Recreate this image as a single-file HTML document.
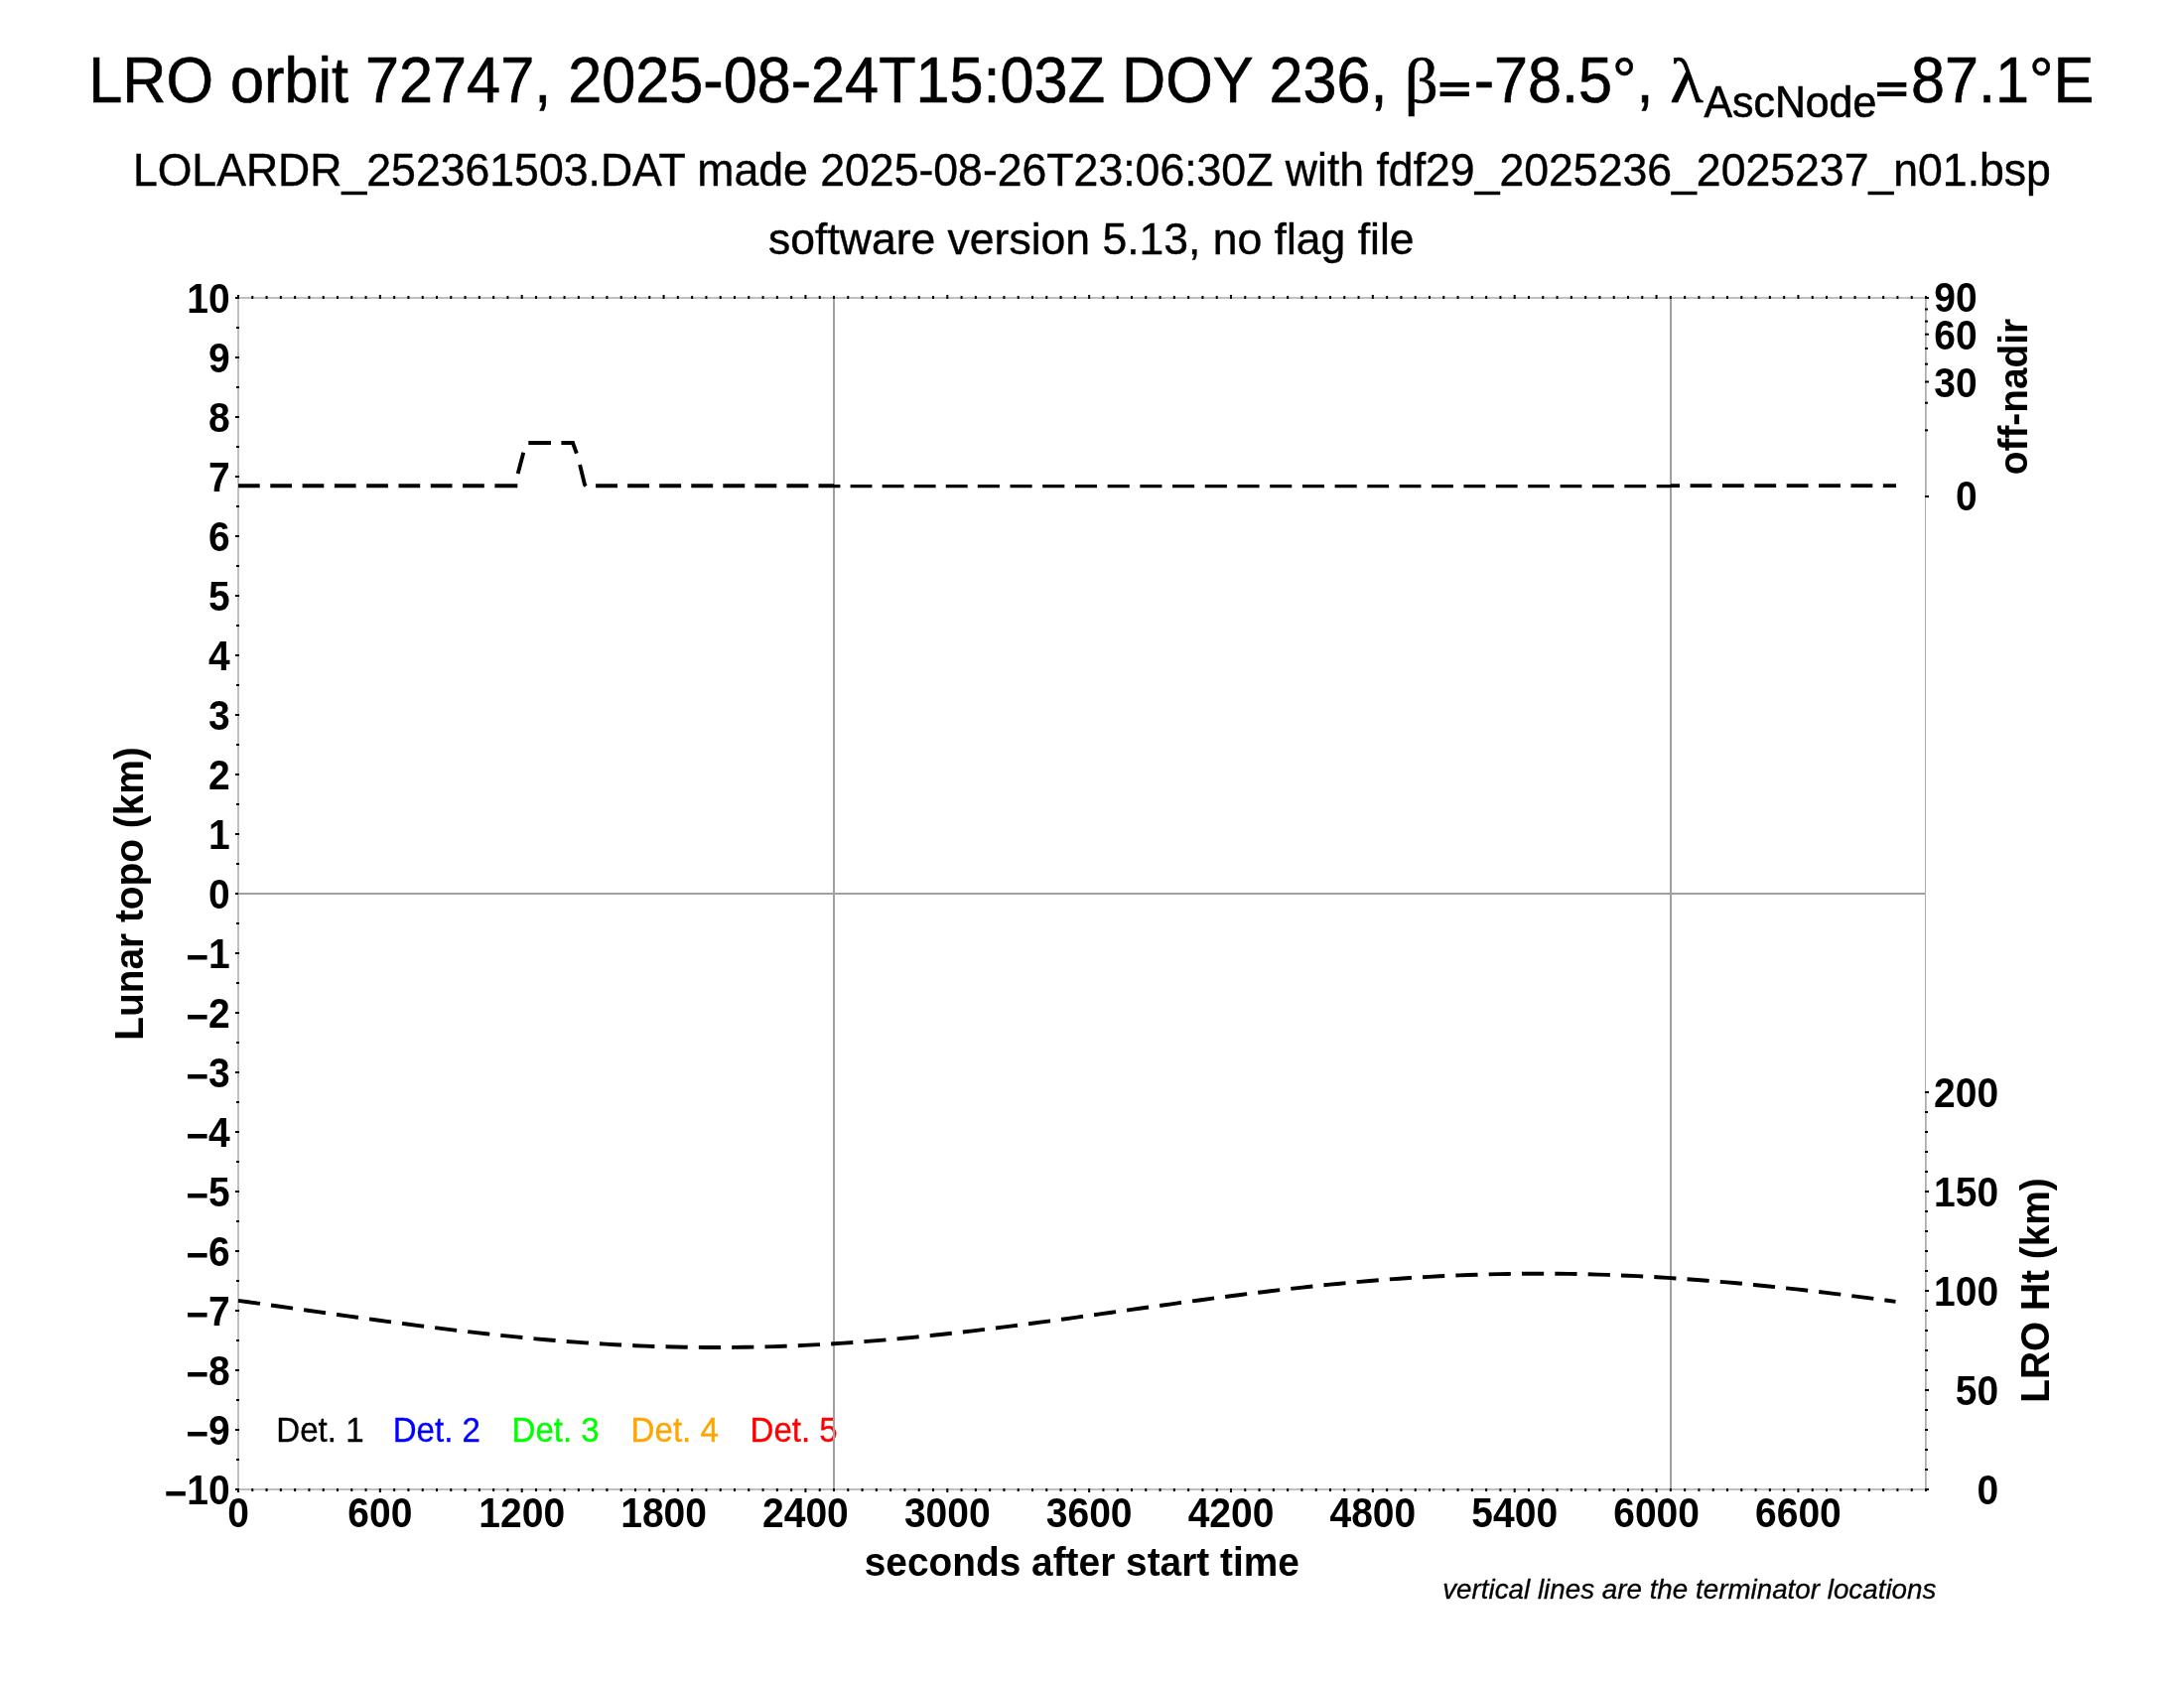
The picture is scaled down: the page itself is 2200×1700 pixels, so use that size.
<!DOCTYPE html>
<html lang="en"><head><meta charset="utf-8">
<title>LRO orbit 72747 LOLA RDR summary</title>
<style>
html,body{margin:0;padding:0;background:#fff;}
body{width:2200px;height:1700px;}
svg{display:block;will-change:transform;}
text{font-family:'Liberation Sans', Arial, Helvetica, sans-serif;fill:#000;}
.ann{font-weight:bold;font-size:39px;}
.lab{font-weight:bold;font-size:38.85px;}
.sub{font-size:44.6px;stroke:#000;stroke-width:0.4px;}
.det{font-size:33.1px;}
.gr{font-family:'Liberation Serif', 'DejaVu Serif', serif;}
</style></head><body>
<svg width="2200" height="1700" viewBox="0 0 2200 1700" role="img" aria-label="LOLA RDR orbit summary plot">
<rect x="0" y="0" width="2200" height="1700" fill="#ffffff"/>
<g id="headings">
<text id="t1" transform="translate(89.2,103.2) scale(1,1.055)" font-size="61.2" style="stroke:#000;stroke-width:0.6px;" xml:space="preserve">LRO orbit 72747, 2025-08-24T15:03Z DOY 236, </text>
<text id="tb" class="gr" transform="translate(1414.8,102.8) scale(1.045,1)" font-size="64" style="stroke:#000;stroke-width:0.6px;" xml:space="preserve">β</text>
<text id="e1" transform="translate(1449.4,102) scale(0.88,0.602)" font-size="61.2" style="stroke:#000;stroke-width:3.6px;">=</text>
<text id="t2" transform="translate(1484.64,103.2) scale(1,1.055)" font-size="61.2" style="stroke:#000;stroke-width:0.6px;" xml:space="preserve">-78.5°, </text>
<text id="tl" class="gr" transform="translate(1682.2,103.2) scale(1.075,1)" font-size="64.2" style="stroke:#000;stroke-width:0.6px;" xml:space="preserve">λ</text>
<text id="ts" transform="translate(1716.5,117.7) scale(1,1.055)" font-size="42.84" style="stroke:#000;stroke-width:0.6px;" xml:space="preserve">AscNode</text>
<text id="e2" transform="translate(1889.95,102) scale(0.88,0.602)" font-size="61.2" style="stroke:#000;stroke-width:3.6px;">=</text>
<text id="t3" transform="translate(1925.04,103.2) scale(1,1.055)" font-size="61.2" style="stroke:#000;stroke-width:0.6px;" xml:space="preserve">87.1°E</text>
<text class="sub" transform="translate(1099.9,187) scale(1,1.05)" text-anchor="middle">LOLARDR_252361503.DAT made 2025-08-26T23:06:30Z with fdf29_2025236_2025237_n01.bsp</text>
<text class="sub" transform="translate(1099.3,255.5) scale(1,1)" text-anchor="middle" style="font-size:44.5px">software version 5.13, no flag file</text>
</g>
<g id="legend">
<text class="det" transform="translate(278.3,1451.8) scale(1,1.05)" style="fill:#000000;stroke:#000000;stroke-width:0.3px">Det. 1</text>
<text class="det" transform="translate(395.7,1451.8) scale(1,1.05)" style="fill:#0000ff;stroke:#0000ff;stroke-width:0.3px">Det. 2</text>
<text class="det" transform="translate(515.5,1451.8) scale(1,1.05)" style="fill:#00ff00;stroke:#00ff00;stroke-width:0.3px">Det. 3</text>
<text class="det" transform="translate(635.6,1451.8) scale(1,1.05)" style="fill:#ffa500;stroke:#ffa500;stroke-width:0.3px">Det. 4</text>
<text class="det" transform="translate(755.5,1451.8) scale(1,1.05)" style="fill:#ff0000;stroke:#ff0000;stroke-width:0.3px">Det. 5</text>
</g>
<g id="frame" fill="#c0c0c0">
<rect x="239" y="299" width="1702" height="2"/>
<rect x="239" y="1499" width="1702" height="2"/>
<rect x="239" y="299" width="2" height="1202"/>
<rect x="1939" y="299" width="2" height="202"/>
<rect x="1939" y="1099" width="2" height="402"/>
<rect x="1939" y="299" width="1" height="1202" fill="#adadad"/>
</g>
<g id="ticks" fill="#000">
<rect x="239" y="297" width="2" height="4"/>
<rect x="239" y="1499" width="2" height="4"/>
<rect x="253.286" y="298" width="2" height="3"/>
<rect x="253.286" y="1499" width="2" height="3"/>
<rect x="267.571" y="298" width="2" height="3"/>
<rect x="267.571" y="1499" width="2" height="3"/>
<rect x="281.857" y="298" width="2" height="3"/>
<rect x="281.857" y="1499" width="2" height="3"/>
<rect x="296.143" y="298" width="2" height="3"/>
<rect x="296.143" y="1499" width="2" height="3"/>
<rect x="310.429" y="298" width="2" height="3"/>
<rect x="310.429" y="1499" width="2" height="3"/>
<rect x="324.714" y="298" width="2" height="3"/>
<rect x="324.714" y="1499" width="2" height="3"/>
<rect x="339" y="298" width="2" height="3"/>
<rect x="339" y="1499" width="2" height="3"/>
<rect x="353.286" y="298" width="2" height="3"/>
<rect x="353.286" y="1499" width="2" height="3"/>
<rect x="367.571" y="298" width="2" height="3"/>
<rect x="367.571" y="1499" width="2" height="3"/>
<rect x="381.857" y="297" width="2" height="4"/>
<rect x="381.857" y="1499" width="2" height="4"/>
<rect x="396.143" y="298" width="2" height="3"/>
<rect x="396.143" y="1499" width="2" height="3"/>
<rect x="410.429" y="298" width="2" height="3"/>
<rect x="410.429" y="1499" width="2" height="3"/>
<rect x="424.714" y="298" width="2" height="3"/>
<rect x="424.714" y="1499" width="2" height="3"/>
<rect x="439" y="298" width="2" height="3"/>
<rect x="439" y="1499" width="2" height="3"/>
<rect x="453.286" y="298" width="2" height="3"/>
<rect x="453.286" y="1499" width="2" height="3"/>
<rect x="467.571" y="298" width="2" height="3"/>
<rect x="467.571" y="1499" width="2" height="3"/>
<rect x="481.857" y="298" width="2" height="3"/>
<rect x="481.857" y="1499" width="2" height="3"/>
<rect x="496.143" y="298" width="2" height="3"/>
<rect x="496.143" y="1499" width="2" height="3"/>
<rect x="510.429" y="298" width="2" height="3"/>
<rect x="510.429" y="1499" width="2" height="3"/>
<rect x="524.714" y="297" width="2" height="4"/>
<rect x="524.714" y="1499" width="2" height="4"/>
<rect x="539" y="298" width="2" height="3"/>
<rect x="539" y="1499" width="2" height="3"/>
<rect x="553.286" y="298" width="2" height="3"/>
<rect x="553.286" y="1499" width="2" height="3"/>
<rect x="567.571" y="298" width="2" height="3"/>
<rect x="567.571" y="1499" width="2" height="3"/>
<rect x="581.857" y="298" width="2" height="3"/>
<rect x="581.857" y="1499" width="2" height="3"/>
<rect x="596.143" y="298" width="2" height="3"/>
<rect x="596.143" y="1499" width="2" height="3"/>
<rect x="610.429" y="298" width="2" height="3"/>
<rect x="610.429" y="1499" width="2" height="3"/>
<rect x="624.714" y="298" width="2" height="3"/>
<rect x="624.714" y="1499" width="2" height="3"/>
<rect x="639" y="298" width="2" height="3"/>
<rect x="639" y="1499" width="2" height="3"/>
<rect x="653.286" y="298" width="2" height="3"/>
<rect x="653.286" y="1499" width="2" height="3"/>
<rect x="667.571" y="297" width="2" height="4"/>
<rect x="667.571" y="1499" width="2" height="4"/>
<rect x="681.857" y="298" width="2" height="3"/>
<rect x="681.857" y="1499" width="2" height="3"/>
<rect x="696.143" y="298" width="2" height="3"/>
<rect x="696.143" y="1499" width="2" height="3"/>
<rect x="710.429" y="298" width="2" height="3"/>
<rect x="710.429" y="1499" width="2" height="3"/>
<rect x="724.714" y="298" width="2" height="3"/>
<rect x="724.714" y="1499" width="2" height="3"/>
<rect x="739" y="298" width="2" height="3"/>
<rect x="739" y="1499" width="2" height="3"/>
<rect x="753.286" y="298" width="2" height="3"/>
<rect x="753.286" y="1499" width="2" height="3"/>
<rect x="767.571" y="298" width="2" height="3"/>
<rect x="767.571" y="1499" width="2" height="3"/>
<rect x="781.857" y="298" width="2" height="3"/>
<rect x="781.857" y="1499" width="2" height="3"/>
<rect x="796.143" y="298" width="2" height="3"/>
<rect x="796.143" y="1499" width="2" height="3"/>
<rect x="810.429" y="297" width="2" height="4"/>
<rect x="810.429" y="1499" width="2" height="4"/>
<rect x="824.714" y="298" width="2" height="3"/>
<rect x="824.714" y="1499" width="2" height="3"/>
<rect x="839" y="298" width="2" height="3"/>
<rect x="839" y="1499" width="2" height="3"/>
<rect x="853.286" y="298" width="2" height="3"/>
<rect x="853.286" y="1499" width="2" height="3"/>
<rect x="867.571" y="298" width="2" height="3"/>
<rect x="867.571" y="1499" width="2" height="3"/>
<rect x="881.857" y="298" width="2" height="3"/>
<rect x="881.857" y="1499" width="2" height="3"/>
<rect x="896.143" y="298" width="2" height="3"/>
<rect x="896.143" y="1499" width="2" height="3"/>
<rect x="910.429" y="298" width="2" height="3"/>
<rect x="910.429" y="1499" width="2" height="3"/>
<rect x="924.714" y="298" width="2" height="3"/>
<rect x="924.714" y="1499" width="2" height="3"/>
<rect x="939" y="298" width="2" height="3"/>
<rect x="939" y="1499" width="2" height="3"/>
<rect x="953.286" y="297" width="2" height="4"/>
<rect x="953.286" y="1499" width="2" height="4"/>
<rect x="967.571" y="298" width="2" height="3"/>
<rect x="967.571" y="1499" width="2" height="3"/>
<rect x="981.857" y="298" width="2" height="3"/>
<rect x="981.857" y="1499" width="2" height="3"/>
<rect x="996.143" y="298" width="2" height="3"/>
<rect x="996.143" y="1499" width="2" height="3"/>
<rect x="1010.429" y="298" width="2" height="3"/>
<rect x="1010.429" y="1499" width="2" height="3"/>
<rect x="1024.714" y="298" width="2" height="3"/>
<rect x="1024.714" y="1499" width="2" height="3"/>
<rect x="1039" y="298" width="2" height="3"/>
<rect x="1039" y="1499" width="2" height="3"/>
<rect x="1053.286" y="298" width="2" height="3"/>
<rect x="1053.286" y="1499" width="2" height="3"/>
<rect x="1067.571" y="298" width="2" height="3"/>
<rect x="1067.571" y="1499" width="2" height="3"/>
<rect x="1081.857" y="298" width="2" height="3"/>
<rect x="1081.857" y="1499" width="2" height="3"/>
<rect x="1096.143" y="297" width="2" height="4"/>
<rect x="1096.143" y="1499" width="2" height="4"/>
<rect x="1110.429" y="298" width="2" height="3"/>
<rect x="1110.429" y="1499" width="2" height="3"/>
<rect x="1124.714" y="298" width="2" height="3"/>
<rect x="1124.714" y="1499" width="2" height="3"/>
<rect x="1139" y="298" width="2" height="3"/>
<rect x="1139" y="1499" width="2" height="3"/>
<rect x="1153.286" y="298" width="2" height="3"/>
<rect x="1153.286" y="1499" width="2" height="3"/>
<rect x="1167.571" y="298" width="2" height="3"/>
<rect x="1167.571" y="1499" width="2" height="3"/>
<rect x="1181.857" y="298" width="2" height="3"/>
<rect x="1181.857" y="1499" width="2" height="3"/>
<rect x="1196.143" y="298" width="2" height="3"/>
<rect x="1196.143" y="1499" width="2" height="3"/>
<rect x="1210.429" y="298" width="2" height="3"/>
<rect x="1210.429" y="1499" width="2" height="3"/>
<rect x="1224.714" y="298" width="2" height="3"/>
<rect x="1224.714" y="1499" width="2" height="3"/>
<rect x="1239" y="297" width="2" height="4"/>
<rect x="1239" y="1499" width="2" height="4"/>
<rect x="1253.286" y="298" width="2" height="3"/>
<rect x="1253.286" y="1499" width="2" height="3"/>
<rect x="1267.571" y="298" width="2" height="3"/>
<rect x="1267.571" y="1499" width="2" height="3"/>
<rect x="1281.857" y="298" width="2" height="3"/>
<rect x="1281.857" y="1499" width="2" height="3"/>
<rect x="1296.143" y="298" width="2" height="3"/>
<rect x="1296.143" y="1499" width="2" height="3"/>
<rect x="1310.429" y="298" width="2" height="3"/>
<rect x="1310.429" y="1499" width="2" height="3"/>
<rect x="1324.714" y="298" width="2" height="3"/>
<rect x="1324.714" y="1499" width="2" height="3"/>
<rect x="1339" y="298" width="2" height="3"/>
<rect x="1339" y="1499" width="2" height="3"/>
<rect x="1353.286" y="298" width="2" height="3"/>
<rect x="1353.286" y="1499" width="2" height="3"/>
<rect x="1367.571" y="298" width="2" height="3"/>
<rect x="1367.571" y="1499" width="2" height="3"/>
<rect x="1381.857" y="297" width="2" height="4"/>
<rect x="1381.857" y="1499" width="2" height="4"/>
<rect x="1396.143" y="298" width="2" height="3"/>
<rect x="1396.143" y="1499" width="2" height="3"/>
<rect x="1410.429" y="298" width="2" height="3"/>
<rect x="1410.429" y="1499" width="2" height="3"/>
<rect x="1424.714" y="298" width="2" height="3"/>
<rect x="1424.714" y="1499" width="2" height="3"/>
<rect x="1439" y="298" width="2" height="3"/>
<rect x="1439" y="1499" width="2" height="3"/>
<rect x="1453.286" y="298" width="2" height="3"/>
<rect x="1453.286" y="1499" width="2" height="3"/>
<rect x="1467.571" y="298" width="2" height="3"/>
<rect x="1467.571" y="1499" width="2" height="3"/>
<rect x="1481.857" y="298" width="2" height="3"/>
<rect x="1481.857" y="1499" width="2" height="3"/>
<rect x="1496.143" y="298" width="2" height="3"/>
<rect x="1496.143" y="1499" width="2" height="3"/>
<rect x="1510.429" y="298" width="2" height="3"/>
<rect x="1510.429" y="1499" width="2" height="3"/>
<rect x="1524.714" y="297" width="2" height="4"/>
<rect x="1524.714" y="1499" width="2" height="4"/>
<rect x="1539" y="298" width="2" height="3"/>
<rect x="1539" y="1499" width="2" height="3"/>
<rect x="1553.286" y="298" width="2" height="3"/>
<rect x="1553.286" y="1499" width="2" height="3"/>
<rect x="1567.571" y="298" width="2" height="3"/>
<rect x="1567.571" y="1499" width="2" height="3"/>
<rect x="1581.857" y="298" width="2" height="3"/>
<rect x="1581.857" y="1499" width="2" height="3"/>
<rect x="1596.143" y="298" width="2" height="3"/>
<rect x="1596.143" y="1499" width="2" height="3"/>
<rect x="1610.429" y="298" width="2" height="3"/>
<rect x="1610.429" y="1499" width="2" height="3"/>
<rect x="1624.714" y="298" width="2" height="3"/>
<rect x="1624.714" y="1499" width="2" height="3"/>
<rect x="1639" y="298" width="2" height="3"/>
<rect x="1639" y="1499" width="2" height="3"/>
<rect x="1653.286" y="298" width="2" height="3"/>
<rect x="1653.286" y="1499" width="2" height="3"/>
<rect x="1667.571" y="297" width="2" height="4"/>
<rect x="1667.571" y="1499" width="2" height="4"/>
<rect x="1681.857" y="298" width="2" height="3"/>
<rect x="1681.857" y="1499" width="2" height="3"/>
<rect x="1696.143" y="298" width="2" height="3"/>
<rect x="1696.143" y="1499" width="2" height="3"/>
<rect x="1710.429" y="298" width="2" height="3"/>
<rect x="1710.429" y="1499" width="2" height="3"/>
<rect x="1724.714" y="298" width="2" height="3"/>
<rect x="1724.714" y="1499" width="2" height="3"/>
<rect x="1739" y="298" width="2" height="3"/>
<rect x="1739" y="1499" width="2" height="3"/>
<rect x="1753.286" y="298" width="2" height="3"/>
<rect x="1753.286" y="1499" width="2" height="3"/>
<rect x="1767.571" y="298" width="2" height="3"/>
<rect x="1767.571" y="1499" width="2" height="3"/>
<rect x="1781.857" y="298" width="2" height="3"/>
<rect x="1781.857" y="1499" width="2" height="3"/>
<rect x="1796.143" y="298" width="2" height="3"/>
<rect x="1796.143" y="1499" width="2" height="3"/>
<rect x="1810.429" y="297" width="2" height="4"/>
<rect x="1810.429" y="1499" width="2" height="4"/>
<rect x="1824.714" y="298" width="2" height="3"/>
<rect x="1824.714" y="1499" width="2" height="3"/>
<rect x="1839" y="298" width="2" height="3"/>
<rect x="1839" y="1499" width="2" height="3"/>
<rect x="1853.286" y="298" width="2" height="3"/>
<rect x="1853.286" y="1499" width="2" height="3"/>
<rect x="1867.571" y="298" width="2" height="3"/>
<rect x="1867.571" y="1499" width="2" height="3"/>
<rect x="1881.857" y="298" width="2" height="3"/>
<rect x="1881.857" y="1499" width="2" height="3"/>
<rect x="1896.143" y="298" width="2" height="3"/>
<rect x="1896.143" y="1499" width="2" height="3"/>
<rect x="1910.429" y="298" width="2" height="3"/>
<rect x="1910.429" y="1499" width="2" height="3"/>
<rect x="1924.714" y="298" width="2" height="3"/>
<rect x="1924.714" y="1499" width="2" height="3"/>
<rect x="1939" y="298" width="2" height="3"/>
<rect x="1939" y="1499" width="2" height="3"/>
<rect x="237" y="299" width="4" height="2"/>
<rect x="238" y="329" width="3" height="2"/>
<rect x="237" y="359" width="4" height="2"/>
<rect x="238" y="389" width="3" height="2"/>
<rect x="237" y="419" width="4" height="2"/>
<rect x="238" y="449" width="3" height="2"/>
<rect x="237" y="479" width="4" height="2"/>
<rect x="238" y="509" width="3" height="2"/>
<rect x="237" y="539" width="4" height="2"/>
<rect x="238" y="569" width="3" height="2"/>
<rect x="237" y="599" width="4" height="2"/>
<rect x="238" y="629" width="3" height="2"/>
<rect x="237" y="659" width="4" height="2"/>
<rect x="238" y="689" width="3" height="2"/>
<rect x="237" y="719" width="4" height="2"/>
<rect x="238" y="749" width="3" height="2"/>
<rect x="237" y="779" width="4" height="2"/>
<rect x="238" y="809" width="3" height="2"/>
<rect x="237" y="839" width="4" height="2"/>
<rect x="238" y="869" width="3" height="2"/>
<rect x="237" y="899" width="4" height="2"/>
<rect x="238" y="929" width="3" height="2"/>
<rect x="237" y="959" width="4" height="2"/>
<rect x="238" y="989" width="3" height="2"/>
<rect x="237" y="1019" width="4" height="2"/>
<rect x="238" y="1049" width="3" height="2"/>
<rect x="237" y="1079" width="4" height="2"/>
<rect x="238" y="1109" width="3" height="2"/>
<rect x="237" y="1139" width="4" height="2"/>
<rect x="238" y="1169" width="3" height="2"/>
<rect x="237" y="1199" width="4" height="2"/>
<rect x="238" y="1229" width="3" height="2"/>
<rect x="237" y="1259" width="4" height="2"/>
<rect x="238" y="1289" width="3" height="2"/>
<rect x="237" y="1319" width="4" height="2"/>
<rect x="238" y="1349" width="3" height="2"/>
<rect x="237" y="1379" width="4" height="2"/>
<rect x="238" y="1409" width="3" height="2"/>
<rect x="237" y="1439" width="4" height="2"/>
<rect x="238" y="1469" width="3" height="2"/>
<rect x="237" y="1499" width="4" height="2"/>
<rect x="1939" y="499" width="4" height="2"/>
<rect x="1939" y="432.333" width="3" height="2"/>
<rect x="1939" y="404.719" width="3" height="2"/>
<rect x="1939" y="383.53" width="4" height="2"/>
<rect x="1939" y="365.667" width="3" height="2"/>
<rect x="1939" y="349.929" width="3" height="2"/>
<rect x="1939" y="335.701" width="4" height="2"/>
<rect x="1939" y="322.617" width="3" height="2"/>
<rect x="1939" y="310.438" width="3" height="2"/>
<rect x="1939" y="299" width="4" height="2"/>
<rect x="1939" y="1499" width="4" height="2"/>
<rect x="1939" y="1479" width="3" height="2"/>
<rect x="1939" y="1459" width="3" height="2"/>
<rect x="1939" y="1439" width="3" height="2"/>
<rect x="1939" y="1419" width="3" height="2"/>
<rect x="1939" y="1399" width="4" height="2"/>
<rect x="1939" y="1379" width="3" height="2"/>
<rect x="1939" y="1359" width="3" height="2"/>
<rect x="1939" y="1339" width="3" height="2"/>
<rect x="1939" y="1319" width="3" height="2"/>
<rect x="1939" y="1299" width="4" height="2"/>
<rect x="1939" y="1279" width="3" height="2"/>
<rect x="1939" y="1259" width="3" height="2"/>
<rect x="1939" y="1239" width="3" height="2"/>
<rect x="1939" y="1219" width="3" height="2"/>
<rect x="1939" y="1199" width="4" height="2"/>
<rect x="1939" y="1179" width="3" height="2"/>
<rect x="1939" y="1159" width="3" height="2"/>
<rect x="1939" y="1139" width="3" height="2"/>
<rect x="1939" y="1119" width="3" height="2"/>
<rect x="1939" y="1099" width="4" height="2"/>
</g>
<g id="grid" fill="#a0a0a0">
<rect x="240" y="899" width="1699" height="2"/>
<rect x="839" y="301" width="2" height="1198"/>
<rect x="1682" y="301" width="2" height="1198"/>
</g>
<g id="curves" fill="none" stroke="#000" stroke-width="3.9" stroke-linejoin="miter">
<path id="offnadir1" d="M240,489.2 H490" stroke-dasharray="21.7 10.6"/>
<path id="offnadir_bump" d="M498.4,489.2 H521.3 M521.7,477 L527.3,455.8 M532.3,446 H555 M565.4,446 H577 L580.9,456.6 M584.1,468 L589,488.2 L590.2,489.6"/>
<path id="offnadir2a" d="M600.1,489.2 H840" stroke-dasharray="21.9 10.16"/>
<path id="offnadir2b" d="M840,489.7 H984.8" stroke-width="3.2" stroke-dasharray="21.9 10.16" stroke-dashoffset="15.48"/>
<path id="offnadir2c" d="M984.8,489.7 H1377.3" stroke-width="3.2" stroke-dasharray="22.1 10.61"/>
<path id="offnadir2d" d="M1377.3,489.7 H1683" stroke-width="3.2" stroke-dasharray="21.8 10.58"/>
<path id="offnadir2e" d="M1683,489.1 H1910" stroke-dasharray="21.8 10.58" stroke-dashoffset="12.8"/>
<path id="lroht" d="M240,1309.861 L249.997,1311.257 L259.994,1312.658 L269.991,1314.065 L279.988,1315.477 L289.985,1316.891 L299.982,1318.307 L309.979,1319.723 L319.976,1321.137 L329.973,1322.549 L339.97,1323.956 L349.967,1325.356 L359.964,1326.749 L369.961,1328.131 L379.958,1329.502 L389.955,1330.859 L399.952,1332.2 L409.949,1333.524 L419.946,1334.829 L429.943,1336.113 L439.94,1337.374 L449.937,1338.61 L459.934,1339.819 L469.931,1341 L479.928,1342.15 L489.925,1343.269 L499.922,1344.354 L509.919,1345.403 L519.916,1346.416 L529.913,1347.39 L539.91,1348.325 L549.907,1349.217 L559.904,1350.068 L569.901,1350.874 L579.898,1351.635 L589.895,1352.349 L599.892,1353.016 L609.889,1353.634 L619.886,1354.203 L629.883,1354.721 L639.88,1355.188 L649.877,1355.603 L659.874,1355.965 L669.871,1356.275 L679.868,1356.531 L689.865,1356.732 L699.862,1356.88 L709.859,1356.973 L719.856,1357.012 L729.853,1356.995 L739.85,1356.924 L749.847,1356.799 L759.844,1356.619 L769.841,1356.386 L779.838,1356.098 L789.835,1355.758 L799.832,1355.365 L809.829,1354.919 L819.826,1354.423 L829.823,1353.875 L839.82,1353.278 L849.817,1352.632 L859.814,1351.939 L869.811,1351.198 L879.808,1350.412 L889.805,1349.581 L899.802,1348.706 L909.799,1347.79 L919.796,1346.834 L929.793,1345.838 L939.79,1344.805 L949.787,1343.735 L959.784,1342.631 L969.781,1341.494 L979.778,1340.326 L989.775,1339.128 L999.772,1337.903 L1009.769,1336.652 L1019.766,1335.377 L1029.763,1334.08 L1039.76,1332.762 L1049.757,1331.427 L1059.754,1330.075 L1069.751,1328.708 L1079.749,1327.329 L1089.746,1325.94 L1099.743,1324.543 L1109.74,1323.139 L1119.737,1321.731 L1129.734,1320.321 L1139.731,1318.91 L1149.728,1317.502 L1159.725,1316.097 L1169.722,1314.698 L1179.719,1313.307 L1189.716,1311.926 L1199.713,1310.557 L1209.71,1309.202 L1219.707,1307.862 L1229.704,1306.54 L1239.701,1305.238 L1249.698,1303.957 L1259.695,1302.699 L1269.692,1301.467 L1279.689,1300.261 L1289.686,1299.083 L1299.683,1297.936 L1309.68,1296.82 L1319.677,1295.737 L1329.674,1294.689 L1339.671,1293.678 L1349.668,1292.704 L1359.665,1291.769 L1369.662,1290.873 L1379.659,1290.02 L1389.656,1289.209 L1399.653,1288.441 L1409.65,1287.719 L1419.647,1287.041 L1429.644,1286.411 L1439.641,1285.827 L1449.638,1285.292 L1459.635,1284.806 L1469.632,1284.368 L1479.629,1283.981 L1489.626,1283.644 L1499.623,1283.358 L1509.62,1283.122 L1519.617,1282.938 L1529.614,1282.805 L1539.611,1282.724 L1549.608,1282.694 L1559.605,1282.716 L1569.602,1282.789 L1579.599,1282.913 L1589.596,1283.087 L1599.593,1283.312 L1609.59,1283.587 L1619.587,1283.912 L1629.584,1284.285 L1639.581,1284.707 L1649.578,1285.176 L1659.575,1285.693 L1669.572,1286.255 L1679.569,1286.863 L1689.566,1287.515 L1699.563,1288.21 L1709.56,1288.948 L1719.557,1289.727 L1729.554,1290.547 L1739.551,1291.406 L1749.548,1292.302 L1759.545,1293.236 L1769.542,1294.206 L1779.539,1295.209 L1789.536,1296.247 L1799.533,1297.316 L1809.53,1298.416 L1819.527,1299.546 L1829.524,1300.705 L1839.521,1301.89 L1849.518,1303.102 L1859.515,1304.339 L1869.512,1305.601 L1879.509,1306.885 L1889.506,1308.191 L1899.503,1309.518 L1909.5,1310.866" stroke-dasharray="22.2 11.13"/>
</g>
<g id="annot">
<text class="ann" transform="translate(231.7,314.6) scale(1,1.07)" text-anchor="end">10</text>
<text class="ann" transform="translate(231.7,374.6) scale(1,1.07)" text-anchor="end">9</text>
<text class="ann" transform="translate(231.7,434.6) scale(1,1.07)" text-anchor="end">8</text>
<text class="ann" transform="translate(231.7,494.6) scale(1,1.07)" text-anchor="end">7</text>
<text class="ann" transform="translate(231.7,554.6) scale(1,1.07)" text-anchor="end">6</text>
<text class="ann" transform="translate(231.7,614.6) scale(1,1.07)" text-anchor="end">5</text>
<text class="ann" transform="translate(231.7,674.6) scale(1,1.07)" text-anchor="end">4</text>
<text class="ann" transform="translate(231.7,734.6) scale(1,1.07)" text-anchor="end">3</text>
<text class="ann" transform="translate(231.7,794.6) scale(1,1.07)" text-anchor="end">2</text>
<text class="ann" transform="translate(231.7,854.6) scale(1,1.07)" text-anchor="end">1</text>
<text class="ann" transform="translate(231.7,914.6) scale(1,1.07)" text-anchor="end">0</text>
<text class="ann" transform="translate(231.7,974.6) scale(1,1.07)" text-anchor="end"><tspan dy="2.991">−</tspan><tspan dy="-2.991">1</tspan></text>
<text class="ann" transform="translate(231.7,1034.6) scale(1,1.07)" text-anchor="end"><tspan dy="2.991">−</tspan><tspan dy="-2.991">2</tspan></text>
<text class="ann" transform="translate(231.7,1094.6) scale(1,1.07)" text-anchor="end"><tspan dy="2.991">−</tspan><tspan dy="-2.991">3</tspan></text>
<text class="ann" transform="translate(231.7,1154.6) scale(1,1.07)" text-anchor="end"><tspan dy="2.991">−</tspan><tspan dy="-2.991">4</tspan></text>
<text class="ann" transform="translate(231.7,1214.6) scale(1,1.07)" text-anchor="end"><tspan dy="2.991">−</tspan><tspan dy="-2.991">5</tspan></text>
<text class="ann" transform="translate(231.7,1274.6) scale(1,1.07)" text-anchor="end"><tspan dy="2.991">−</tspan><tspan dy="-2.991">6</tspan></text>
<text class="ann" transform="translate(231.7,1334.6) scale(1,1.07)" text-anchor="end"><tspan dy="2.991">−</tspan><tspan dy="-2.991">7</tspan></text>
<text class="ann" transform="translate(231.7,1394.6) scale(1,1.07)" text-anchor="end"><tspan dy="2.991">−</tspan><tspan dy="-2.991">8</tspan></text>
<text class="ann" transform="translate(231.7,1454.6) scale(1,1.07)" text-anchor="end"><tspan dy="2.991">−</tspan><tspan dy="-2.991">9</tspan></text>
<text class="ann" transform="translate(231.7,1514.6) scale(1,1.07)" text-anchor="end"><tspan dy="2.991">−</tspan><tspan dy="-2.991">10</tspan></text>
<text class="ann" transform="translate(240,1537.8) scale(1,1.07)" text-anchor="middle">0</text>
<text class="ann" transform="translate(382.857,1537.8) scale(1,1.07)" text-anchor="middle">600</text>
<text class="ann" transform="translate(525.714,1537.8) scale(1,1.07)" text-anchor="middle">1200</text>
<text class="ann" transform="translate(668.571,1537.8) scale(1,1.07)" text-anchor="middle">1800</text>
<text class="ann" transform="translate(811.429,1537.8) scale(1,1.07)" text-anchor="middle">2400</text>
<text class="ann" transform="translate(954.286,1537.8) scale(1,1.07)" text-anchor="middle">3000</text>
<text class="ann" transform="translate(1097.143,1537.8) scale(1,1.07)" text-anchor="middle">3600</text>
<text class="ann" transform="translate(1240,1537.8) scale(1,1.07)" text-anchor="middle">4200</text>
<text class="ann" transform="translate(1382.857,1537.8) scale(1,1.07)" text-anchor="middle">4800</text>
<text class="ann" transform="translate(1525.714,1537.8) scale(1,1.07)" text-anchor="middle">5400</text>
<text class="ann" transform="translate(1668.571,1537.8) scale(1,1.07)" text-anchor="middle">6000</text>
<text class="ann" transform="translate(1811.429,1537.8) scale(1,1.07)" text-anchor="middle">6600</text>
<text class="ann" transform="translate(1991.6,314.1) scale(1,1.07)" text-anchor="end">90</text>
<text class="ann" transform="translate(1991.6,352.101) scale(1,1.07)" text-anchor="end">60</text>
<text class="ann" transform="translate(1991.6,400.03) scale(1,1.07)" text-anchor="end">30</text>
<text class="ann" transform="translate(1991.6,514.4) scale(1,1.07)" text-anchor="end">0</text>
<text class="ann" transform="translate(2013.1,1114.6) scale(1,1.07)" text-anchor="end">200</text>
<text class="ann" transform="translate(2013.1,1214.6) scale(1,1.07)" text-anchor="end">150</text>
<text class="ann" transform="translate(2013.1,1314.6) scale(1,1.07)" text-anchor="end">100</text>
<text class="ann" transform="translate(2013.1,1414.6) scale(1,1.07)" text-anchor="end">50</text>
<text class="ann" transform="translate(2013.1,1514.6) scale(1,1.07)" text-anchor="end">0</text>
</g>
<g id="labels">
<text class="lab" transform="translate(1089.8,1587.4) scale(1,1.025)" text-anchor="middle">seconds after start time</text>
<text class="lab" transform="translate(144.4,900) rotate(-90) scale(1,1.04)" text-anchor="middle">Lunar topo (km)</text>
<text class="lab" transform="translate(2042.3,399.5) rotate(-90) scale(1,1.025)" text-anchor="middle">off-nadir</text>
<text class="lab" transform="translate(2064.3,1299.5) rotate(-90) scale(1,1.07)" text-anchor="middle">LRO Ht (km)</text>
<text transform="translate(1950.4,1610) scale(1,0.965)" text-anchor="end" font-style="italic" font-size="27.8" style="stroke:#000;stroke-width:0.3px">vertical lines are the terminator locations</text>
</g>
</svg>
</body></html>
